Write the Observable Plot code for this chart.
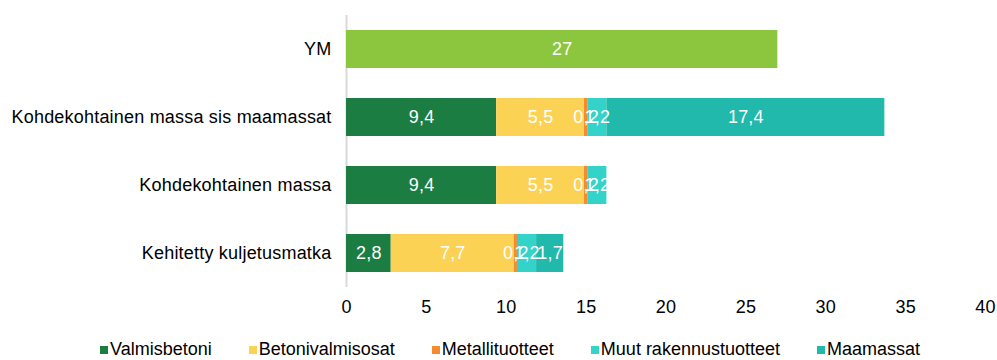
<!DOCTYPE html>
<html>
<head>
<meta charset="utf-8">
<script src="https://cdn.jsdelivr.net/npm/d3@7"></script>
<script src="https://cdn.jsdelivr.net/npm/@observablehq/plot@0.6"></script>
<style>
  body { margin: 0; background: #fff; font-family: "Liberation Sans", Arial, sans-serif; }
  #chart svg { display: block; }
  .legend { display: flex; align-items: center; gap: 37px; padding-left: 100px; margin-top: 17px;
            font-size: 18px; letter-spacing: 0px; color: #000; }
  .legend .item { display: flex; align-items: center; gap: 2px; }
  .legend .sw { width: 8px; height: 8px; display: inline-block; }
</style>
</head>
<body>
<div id="chart"></div>
<script>
// Rows, top to bottom
const categories = [
  "YM",
  "Kohdekohtainen massa sis maamassat",
  "Kohdekohtainen massa",
  "Kehitetty kuljetusmatka"
];
// Stacked series (null = not present for that row)
const seriesNames = ["Valmisbetoni", "Betonivalmisosat", "Metallituotteet", "Muut rakennustuotteet", "Maamassat"];
const valmisbetoni         = [null, 9.4, 9.4, 2.8];
const betonivalmisosat     = [null, 5.5, 5.5, 7.7];
const metallituotteet      = [null, 0.2, 0.2, 0.2];
const muutRakennustuotteet = [null, 1.2, 1.2, 1.2];
const maamassat            = [null, 17.4, null, 1.7];
// Reference total shown on its own row
const ymName = "YM";
const ymValue = [27, null, null, null];

const seriesColors = ["#1b7d42", "#fcd255", "#f58a2e", "#33d3c9", "#21b9ab"];
const ymColor = "#8cc63e";

const columns = [valmisbetoni, betonivalmisosat, metallituotteet, muutRakennustuotteet, maamassat];
const rows = [];
categories.forEach((cat, i) => {
  if (ymValue[i] != null) rows.push({cat, series: ymName, value: ymValue[i]});
  columns.forEach((col, s) => {
    if (col[i] != null) rows.push({cat, series: seriesNames[s], value: col[i]});
  });
});

const fmt = v => String(v).replace(".", ",");
const font = "Liberation Sans, Arial, sans-serif";

const chart = Plot.plot({
  width: 997,
  height: 322,
  marginTop: 15,
  marginBottom: 35,
  marginLeft: 346,
  marginRight: 12,
  style: {fontFamily: font, fontSize: "18px", letterSpacing: "0.2px", color: "#000", background: "#fff"},
  x: {domain: [0, 40], ticks: d3.range(0, 41, 5), label: null},
  y: {domain: categories, label: null, paddingInner: 0.44, paddingOuter: 0.22},
  color: {domain: [ymName, ...seriesNames], range: [ymColor, ...seriesColors]},
  marks: [
    Plot.ruleX([0], {stroke: "#d9d9d9", strokeWidth: 2}),
    Plot.barX(rows, {y: "cat", x: "value", fill: "series", order: [ymName, ...seriesNames]}),
    Plot.textX(rows, Plot.stackX({
      y: "cat", x: "value", z: "series", order: [ymName, ...seriesNames],
      text: d => fmt(d.value), fill: "#fff", fontSize: 18
    })),
    Plot.axisX({tickSize: 0, tickPadding: 13, fontSize: 18}),
    Plot.axisY({tickSize: 0, tickPadding: 15, fontSize: 18})
  ]
});
document.getElementById("chart").append(chart);

// Legend below the plot
const legend = document.createElement("div");
legend.className = "legend";
seriesNames.forEach((name, i) => {
  const item = document.createElement("span");
  item.className = "item";
  const sw = document.createElement("span");
  sw.className = "sw";
  sw.style.background = seriesColors[i];
  item.append(sw, document.createTextNode(name));
  legend.append(item);
});
document.body.append(legend);
</script>
</body>
</html>
